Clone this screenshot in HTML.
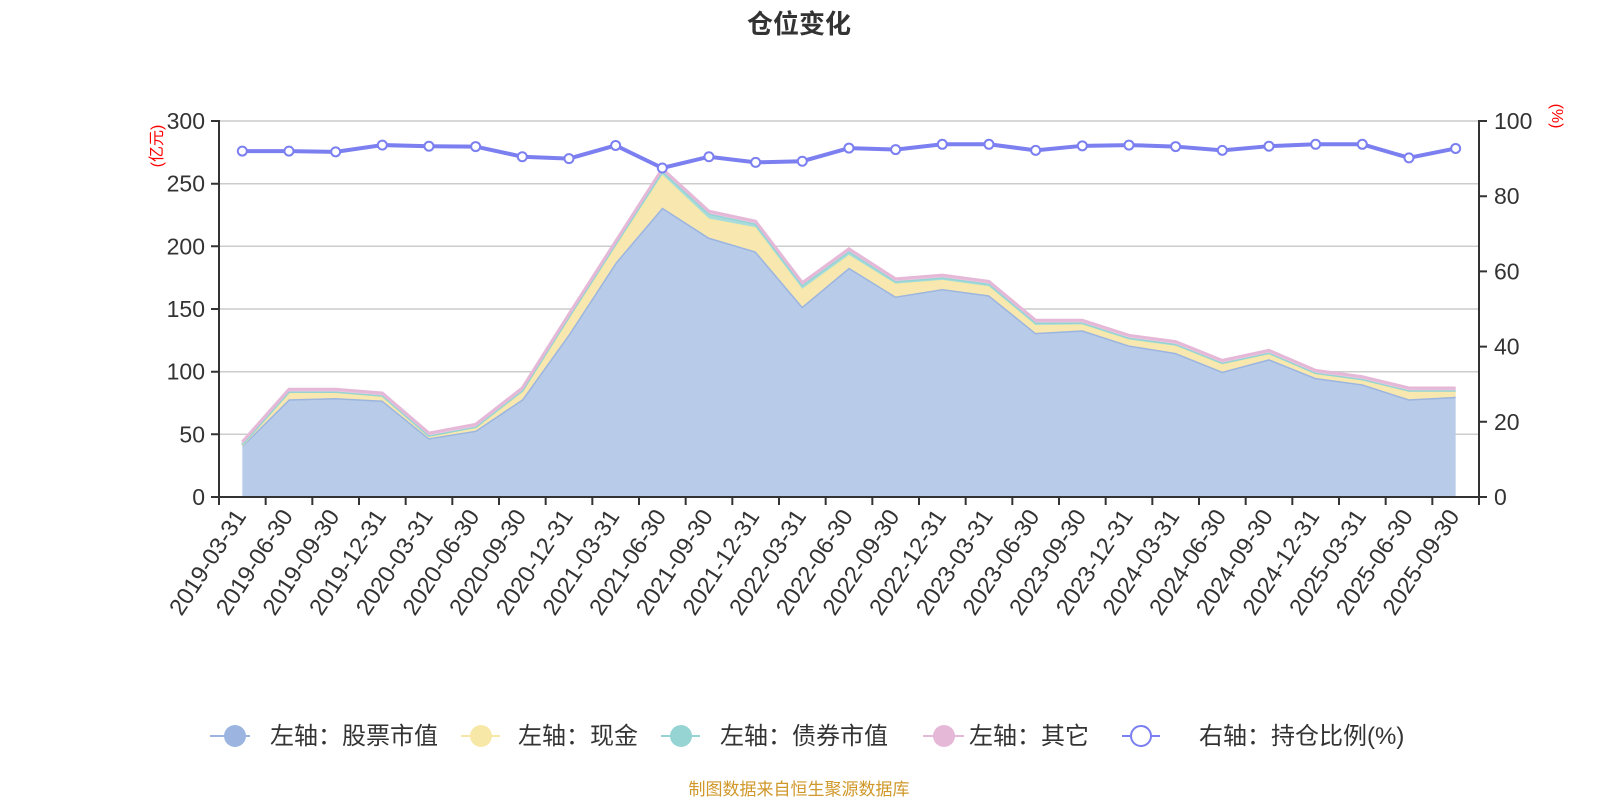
<!DOCTYPE html>
<html><head><meta charset="utf-8"><style>
body{margin:0;background:#fff;}
svg{display:block;font-family:"Liberation Sans","Noto Sans CJK SC",sans-serif;}
</style></head><body>
<svg id="c" width="1600" height="800" viewBox="0 0 1600 800">
<text x="799" y="33" text-anchor="middle" font-size="26" font-weight="bold" fill="#333">仓位变化</text>
<g stroke="#ccc" stroke-width="1.5">
<line x1="219" x2="1479" y1="121" y2="121"/><line x1="219" x2="1479" y1="183.7" y2="183.7"/>
<line x1="219" x2="1479" y1="246.3" y2="246.3"/><line x1="219" x2="1479" y1="309" y2="309"/>
<line x1="219" x2="1479" y1="371.7" y2="371.7"/><line x1="219" x2="1479" y1="434.3" y2="434.3"/>
</g>
<g id="areas"></g>
<g stroke="#333" stroke-width="2" fill="none">
<line x1="219" y1="120" x2="219" y2="498"/><line x1="1479" y1="120" x2="1479" y2="498"/>
<line x1="218" y1="497" x2="1480" y2="497"/>
<path d="M211 121H219M211 183.7H219M211 246.3H219M211 309H219M211 371.7H219M211 434.3H219M211 497H219"/>
<path d="M1479 121H1487M1479 196.2H1487M1479 271.4H1487M1479 346.6H1487M1479 421.8H1487M1479 497H1487"/>
<path id="xt"/>
</g>
<g font-size="23" fill="#333" text-anchor="end">
<text x="205" y="129">300</text><text x="205" y="191.7">250</text><text x="205" y="254.3">200</text>
<text x="205" y="317">150</text><text x="205" y="379.7">100</text><text x="205" y="442.3">50</text><text x="205" y="505">0</text>
</g>
<g font-size="23" fill="#333">
<text x="1494" y="129">100</text><text x="1494" y="204.2">80</text><text x="1494" y="279.4">60</text>
<text x="1494" y="354.6">40</text><text x="1494" y="429.8">20</text><text x="1494" y="505">0</text>
</g>
<text transform="translate(162,146) rotate(-90)" text-anchor="middle" font-size="16" fill="red">(亿元)</text>
<text transform="translate(1552,116) rotate(90)" text-anchor="middle" font-size="16" fill="red">(%)</text>
<g font-size="23.5" fill="#333" text-anchor="end">
<text transform="translate(247,516) rotate(-57)">2019-03-31</text>
<text transform="translate(293.7,516) rotate(-57)">2019-06-30</text>
<text transform="translate(340.3,516) rotate(-57)">2019-09-30</text>
<text transform="translate(387,516) rotate(-57)">2019-12-31</text>
<text transform="translate(433.7,516) rotate(-57)">2020-03-31</text>
<text transform="translate(480.3,516) rotate(-57)">2020-06-30</text>
<text transform="translate(527,516) rotate(-57)">2020-09-30</text>
<text transform="translate(573.7,516) rotate(-57)">2020-12-31</text>
<text transform="translate(620.3,516) rotate(-57)">2021-03-31</text>
<text transform="translate(667,516) rotate(-57)">2021-06-30</text>
<text transform="translate(713.7,516) rotate(-57)">2021-09-30</text>
<text transform="translate(760.3,516) rotate(-57)">2021-12-31</text>
<text transform="translate(807,516) rotate(-57)">2022-03-31</text>
<text transform="translate(853.7,516) rotate(-57)">2022-06-30</text>
<text transform="translate(900.3,516) rotate(-57)">2022-09-30</text>
<text transform="translate(947,516) rotate(-57)">2022-12-31</text>
<text transform="translate(993.7,516) rotate(-57)">2023-03-31</text>
<text transform="translate(1040.3,516) rotate(-57)">2023-06-30</text>
<text transform="translate(1087,516) rotate(-57)">2023-09-30</text>
<text transform="translate(1133.7,516) rotate(-57)">2023-12-31</text>
<text transform="translate(1180.3,516) rotate(-57)">2024-03-31</text>
<text transform="translate(1227,516) rotate(-57)">2024-06-30</text>
<text transform="translate(1273.7,516) rotate(-57)">2024-09-30</text>
<text transform="translate(1320.3,516) rotate(-57)">2024-12-31</text>
<text transform="translate(1367,516) rotate(-57)">2025-03-31</text>
<text transform="translate(1413.7,516) rotate(-57)">2025-06-30</text>
<text transform="translate(1460.3,516) rotate(-57)">2025-09-30</text>
</g>
<g font-size="24" fill="#333">
<line x1="210" x2="250" y1="736" y2="736" stroke="#9bb5e0" stroke-width="2"/><circle cx="235" cy="736" r="11" fill="#9bb5e0"/>
<text x="270" y="744">左轴：股票市值</text>
<line x1="461" x2="500" y1="736" y2="736" stroke="#f8e8a8" stroke-width="2"/><circle cx="481" cy="736" r="11" fill="#f8e8a8"/>
<text x="518" y="744">左轴：现金</text>
<line x1="661" x2="700" y1="736" y2="736" stroke="#96d4d4" stroke-width="2"/><circle cx="681" cy="736" r="11" fill="#96d4d4"/>
<text x="720" y="744">左轴：债券市值</text>
<line x1="923" x2="964" y1="736" y2="736" stroke="#e6b8d8" stroke-width="2"/><circle cx="944" cy="736" r="11" fill="#e6b8d8"/>
<text x="969" y="744">左轴：其它</text>
<line x1="1122" x2="1160" y1="736" y2="736" stroke="#7b7ff0" stroke-width="2"/><circle cx="1141" cy="736" r="10" fill="#fff" stroke="#7b7ff0" stroke-width="2"/>
<text x="1199" y="744">右轴：持仓比例(%)</text>
</g>
<text x="799" y="795" text-anchor="middle" font-size="17" fill="#d0982a">制图数据来自恒生聚源数据库</text>
</svg>
<script>
(function(){
var S=[41,78,79,77,47,53,78,130,187,231,207,196,152,183,160,166,161,131,133,121,115,100,110,95,90,78,80];
var T=[44,86,86,83,51,58,87,146,204,262,228,220,171,198,174,177,172,141,141,129,124,109,117,101,96,87,87];
var B=[0.5,0.5,0.5,0.5,0.5,0.5,1,2,2,3,4,3,3,3,2,2,2,2,1.5,1.5,1.5,1,1,0.5,0.5,0.5,0.5];
var O=1.8;
var P=[92,92,91.8,93.6,93.3,93.2,90.5,90,93.5,87.5,90.5,89,89.3,92.8,92.4,93.8,93.8,92.2,93.4,93.6,93.2,92.2,93.3,93.8,93.8,90.2,92.7];
function X(i){return 242.3+46.667*i;}
function Y(v){return 497-v*376/300;}
function YR(p){return 497-p*3.76;}
var n=S.length,L0=[],L1=[],L2=[],L3=[],base=[];
for(var i=0;i<n;i++){base.push(0);L0.push(S[i]);L3.push(T[i]);L2.push(T[i]-O);L1.push(T[i]-O-B[i]);}
function area(lo,hi,fill,stroke){
 var d="M"+X(0)+" "+Y(hi[0]);for(var i=1;i<n;i++)d+="L"+X(i)+" "+Y(hi[i]);
 for(var i=n-1;i>=0;i--)d+="L"+X(i)+" "+Y(lo[i]);d+="Z";
 var l="M"+X(0)+" "+Y(hi[0]);for(var i=1;i<n;i++)l+="L"+X(i)+" "+Y(hi[i]);
 return '<path d="'+d+'" fill="'+fill+'"/><path d="'+l+'" fill="none" stroke="'+stroke+'" stroke-width="3"/>';
}
var h=area(base,L0,"#b8cbe8","#9bb5e0")+area(L0,L1,"#f8e8b0","#f8e8a8")+area(L1,L2,"#a8dcdc","#96d4d4")+area(L2,L3,"#ecc8e0","#e6b8d8");
var l="M"+X(0)+" "+YR(P[0]);for(var i=1;i<n;i++)l+="L"+X(i)+" "+YR(P[i]);
h+='<path d="'+l+'" fill="none" stroke="#7b7ff0" stroke-width="4"/>';
for(var i=0;i<n;i++)h+='<circle cx="'+X(i)+'" cy="'+YR(P[i])+'" r="4.5" fill="#fff" stroke="#7b7ff0" stroke-width="2"/>';
document.getElementById("areas").innerHTML=h;
var t="";for(var i=0;i<=27;i++){var x=219+46.667*i;t+="M"+x+" 497V505";}
document.getElementById("xt").setAttribute("d",t);
})();
</script>
</body></html>
